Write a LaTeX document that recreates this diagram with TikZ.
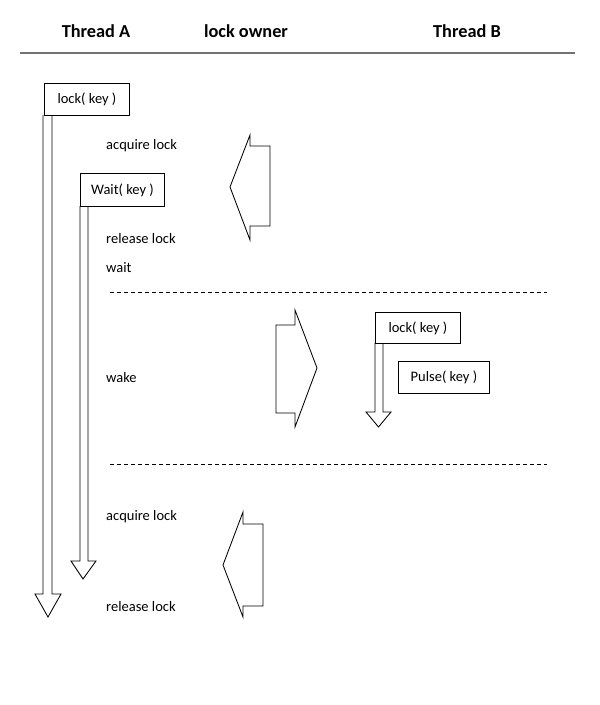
\documentclass[tikz,border=0pt]{standalone}
\usepackage{fontspec}
\setmainfont{Carlito}
\begin{document}
\begin{tikzpicture}[x=1pt,y=-1pt,
  hdr/.style={font=\fontsize{18.3}{21}\selectfont\bfseries, anchor=center},
  lbl/.style={font=\fontsize{14.5}{17}\selectfont, anchor=west, inner sep=0pt},
  callbox/.style={draw=black, line width=0.9pt, font=\fontsize{14.5}{17}\selectfont, anchor=north west, inner sep=0pt, align=center},
  blk/.style={draw=black, line width=0.85pt, fill=white, line join=miter},
  sep/.style={draw=black, line width=0.8pt, dash pattern=on 4pt off 3pt}]
\useasboundingbox (0,0) rectangle (600,705);
% header
\node[hdr] (ha) at (96,31) {Thread A};
\node[hdr] (hl) at (246,31) {lock owner};
\node[hdr] (hb) at (467,31) {Thread B};
\draw[gray!90!black, line width=1.3pt] (20,53) -- (575,53);
% Thread A lock
\draw[blk] (43,115) -- (43,594) -- (35,594) -- (48,617) -- (61,594) -- (52,594) -- (52,115);
\node[callbox, minimum width=85pt, minimum height=32pt] (lockA) at (44,83) {lock( key )};
% Thread A wait
\draw[blk] (80,206) -- (80,561) -- (71,561) -- (83,579) -- (96,561) -- (88,561) -- (88,206);
\node[callbox, minimum width=84pt, minimum height=33pt] (waitA) at (80,173) {Wait( key )};
% labels
\node[lbl] (acq1) at (106,146) {acquire lock};
\node[lbl] (rel1) at (106,239) {release lock};
\node[lbl] (wait) at (106,268) {wait};
\node[lbl] (wake) at (106,378) {wake};
\node[lbl] (acq2) at (106,517) {acquire lock};
\node[lbl] (rel2) at (106,607) {release lock};
% lock owner arrows
\draw[blk] (230,187) -- (250,135) -- (250,146) -- (270,146) -- (270,226) -- (250,226) -- (250,240) -- cycle;
\draw[blk] (317,368) -- (295,310) -- (295,325) -- (276,325) -- (276,413) -- (295,413) -- (295,427) -- cycle;
\draw[blk] (223,565) -- (243,512) -- (243,524) -- (263,524) -- (263,606) -- (243,606) -- (243,617) -- cycle;
% dashed separators
\draw[sep] (110,292) -- (547,292);
\draw[sep] (110,464) -- (547,464);
% Thread B
\draw[blk] (375,343) -- (375,412) -- (366,412) -- (378.5,427) -- (391,412) -- (383,412) -- (383,343);
\node[callbox, minimum width=85pt, minimum height=31pt] (lockB) at (375,312) {lock( key )};
\node[callbox, minimum width=91pt, minimum height=32pt] (pulseB) at (398,361) {Pulse( key )};
\end{tikzpicture}
\end{document}
